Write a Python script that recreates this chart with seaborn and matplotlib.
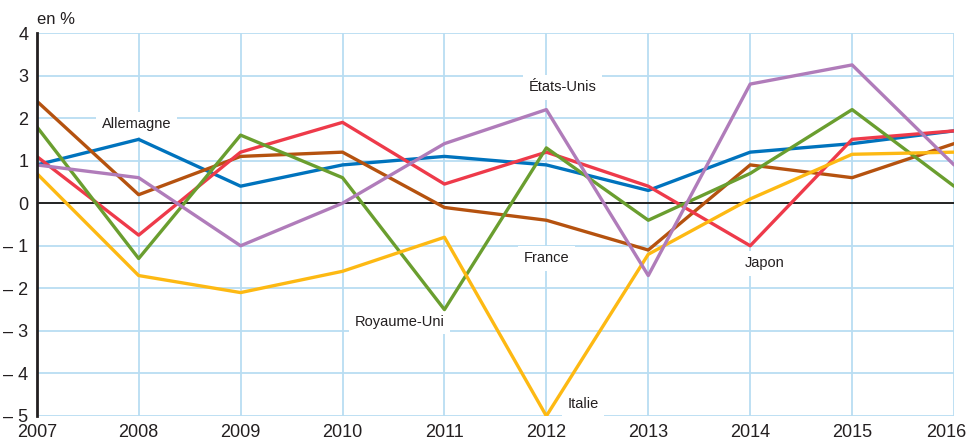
import pandas as pd
import seaborn as sns
import matplotlib.pyplot as plt
from matplotlib.transforms import ScaledTranslation

years = list(range(2007, 2017))
allemagne = [0.9, 1.5, 0.4, 0.9, 1.1, 0.9, 0.3, 1.2, 1.4, 1.7]
france = [2.4, 0.2, 1.1, 1.2, -0.1, -0.4, -1.1, 0.9, 0.6, 1.4]
japon = [1.1, -0.75, 1.2, 1.9, 0.45, 1.2, 0.4, -1.0, 1.5, 1.7]
royaume_uni = [1.8, -1.3, 1.6, 0.6, -2.5, 1.3, -0.4, 0.7, 2.2, 0.4]
italie = [0.7, -1.7, -2.1, -1.6, -0.8, -5.0, -1.2, 0.1, 1.15, 1.2]
etats_unis = [0.9, 0.6, -1.0, 0.0, 1.4, 2.2, -1.7, 2.8, 3.25, 0.9]

series = {
    'Allemagne': allemagne,
    'France': france,
    'Japon': japon,
    'Royaume-Uni': royaume_uni,
    'Italie': italie,
    'États-Unis': etats_unis,
}
colors = {
    'Allemagne': '#0073bd',
    'France': '#b5520f',
    'Japon': '#ee3a4a',
    'Royaume-Uni': '#6a9e2f',
    'Italie': '#fdb913',
    'États-Unis': '#b07cba',
}
# label positions (year, value)
labels = {
    'Allemagne': (2007.98, 1.86),
    'États-Unis': (2012.16, 2.73),
    'France': (2012.0, -1.29),
    'Royaume-Uni': (2010.56, -2.78),
    'Italie': (2012.36, -4.73),
    'Japon': (2014.14, -1.41),
}

df = pd.DataFrame([
    {'year': y, 'value': v, 'pays': name}
    for name, vals in series.items()
    for y, v in zip(years, vals)
])

sns.set_style('white')
plt.rcParams['font.family'] = ['Liberation Sans', 'DejaVu Sans']

fig = plt.figure(figsize=(9.67, 4.43), dpi=100)
ax = fig.add_axes([0.038, 0.061, 0.9486, 0.8645])

grid_c = '#b9ddf2'
for y in years:
    ax.axvline(y, color=grid_c, lw=1.3, zorder=0)
for v in range(-5, 5):
    ax.axhline(v, color=grid_c, lw=1.3, zorder=0)

sns.lineplot(data=df, x='year', y='value', hue='pays', palette=colors,
             linewidth=2.4, legend=False, ax=ax, zorder=3)
ax.axhline(0, color='#222222', lw=1.4, zorder=2)

for name, (x, y) in labels.items():
    ax.text(x, y, name, ha='center', va='center', fontsize=10.5, color='#231f20',
            zorder=1, bbox=dict(facecolor='white', edgecolor='none', pad=4))

ax.set_xlim(2007, 2016)
ax.set_ylim(-5, 4)
ax.set_xticks(years)
ax.set_xticklabels([str(y) for y in years], fontsize=13, color='#231f20')
ax.set_yticks(range(-5, 5))
ax.set_yticklabels([('– ' + str(-v)) if v < 0 else str(v) for v in range(-5, 5)],
                   fontsize=13, color='#231f20')
ax.tick_params(axis='x', length=0, pad=6)
ax.tick_params(axis='y', length=0, pad=6)
# last year label sits a bit left so it stays inside the picture
last = ax.get_xticklabels()[-1]
last.set_transform(last.get_transform() + ScaledTranslation(-0.08, 0, fig.dpi_scale_trans))
ax.set_xlabel('')
ax.set_ylabel('')
for s in ['top', 'right', 'bottom']:
    ax.spines[s].set_visible(False)
ax.spines['left'].set_color('#231f20')
ax.spines['left'].set_linewidth(2)
ax.spines['left'].set_zorder(5)

fig.text(0.038, 0.955, 'en %', fontsize=12, color='#231f20', va='center')

fig.savefig('out.png', dpi=100)
